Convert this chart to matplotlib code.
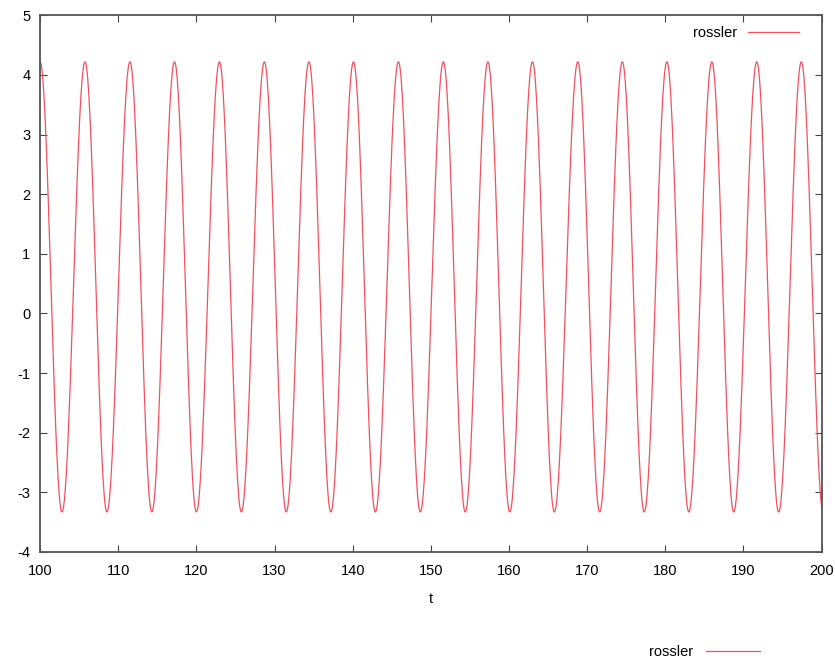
import numpy as np
import matplotlib.pyplot as plt

plt.rcParams['font.family'] = ['Liberation Sans', 'DejaVu Sans']
plt.rcParams['axes.unicode_minus'] = False

# extremos (t, x)
t_picos = [100.0, 105.75, 111.5, 117.2, 122.95, 128.7, 134.4, 140.1, 145.85,
           151.6, 157.3, 163.0, 168.8, 174.5, 180.2, 185.95, 191.7, 197.4]
x_picos = [4.22] * len(t_picos)
t_valles = [102.8, 108.55, 114.3, 120.0, 125.75, 131.5, 137.2, 142.9, 148.65,
            154.4, 160.1, 165.8, 171.6, 177.3, 183.0, 188.75, 194.5, 200.2]
x_valles = [-3.33] * len(t_valles)

# intercalamos picos y valles
t_ext = []
x_ext = []
for i in range(len(t_picos)):
    t_ext += [t_picos[i], t_valles[i]]
    x_ext += [x_picos[i], x_valles[i]]

# tramos suaves entre extremos consecutivos
t = []
x = []
s = np.linspace(0, 1, 40)
for i in range(len(t_ext) - 1):
    t.extend(t_ext[i] + (t_ext[i + 1] - t_ext[i]) * s)
    x.extend(x_ext[i] + (x_ext[i + 1] - x_ext[i]) * (1 - np.cos(np.pi * s)) / 2)

fig = plt.figure(figsize=(8.35, 6.65), dpi=100)
ax = fig.add_axes([0.048, 0.17, 0.936, 0.807])
linea, = ax.plot(t, x, color='#f2505f', lw=0.9, label='rossler')

ax.set_xlim(100, 200)
ax.set_ylim(-4, 5)
ax.set_xticks(np.arange(100, 201, 10))
ax.set_yticks(np.arange(-4, 6, 1))
ax.tick_params(direction='in', top=True, right=True, labelsize=10.5, length=5,
               color='#444444')
ax.tick_params(axis='x', pad=9)
ax.tick_params(axis='y', pad=7)
for sp in ax.spines.values():
    sp.set_color('#555555')
    sp.set_linewidth(1.3)
ax.set_xlabel('t', fontsize=10.5, labelpad=10)

ax.legend(loc='upper right', frameon=False, markerfirst=False, fontsize=10.5,
          handlelength=3.5, handletextpad=0.7, borderaxespad=0,
          bbox_to_anchor=(0.978, 0.99))
fig.legend(handles=[linea], loc='lower right', frameon=False, markerfirst=False,
           fontsize=10.5, handlelength=3.7, handletextpad=0.9, borderaxespad=0,
           bbox_to_anchor=(0.917, 0.0))

fig.savefig('out.png', dpi=100)
